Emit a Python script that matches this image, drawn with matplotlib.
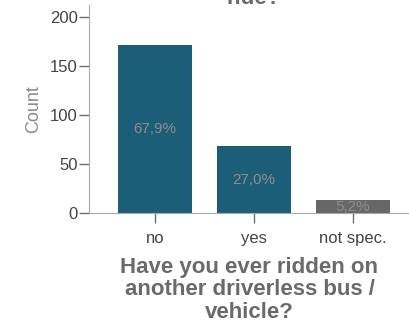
import matplotlib
matplotlib.use("Agg")
import matplotlib.pyplot as plt

categories = ["no", "yes", "not spec."]
counts = [171, 68, 13]
bar_colors = ["#1c5e78", "#1c5e78", "#676767"]
yticks = [0, 50, 100, 150, 200]
question = "Have you ever ridden on\nanother driverless bus /\nvehicle?"

plt.rcParams["font.family"] = ["Liberation Sans", "DejaVu Sans"]

total = sum(counts)
shares = [c / total * 100 for c in counts]

fig = plt.figure(figsize=(4.1, 3.24), dpi=100)
ax = fig.add_axes([89 / 410, 1 - 213 / 324, 1 - 89 / 410, 208 / 324])

x = list(range(len(categories)))
ax.bar(x, counts, width=0.75, color=bar_colors)
for xi, c, s in zip(x, counts, shares):
    ax.text(xi, c / 2, f"{s:.1f}%".replace(".", ","), ha="center", va="center",
            color="#8e8e8e", fontsize=11)

ax.set_xlim(-0.667, 2.58)
ax.set_ylim(0, 212)
ax.set_xticks(x)
ax.set_xticklabels(categories)
ax.set_yticks(yticks)
ax.tick_params(axis="both", colors="#6e6e6e", labelcolor="#444444", labelsize=12,
               length=7.5, width=1)
ax.tick_params(axis="x", pad=5.5)
ax.tick_params(axis="y", pad=0.5)
for side in ("top", "right"):
    ax.spines[side].set_visible(False)
for side in ("left", "bottom"):
    ax.spines[side].set_color("#a8a8a8")

ax.set_ylabel("Count", color="#8a8a8a", fontsize=13, labelpad=6)
ax.set_xlabel(question, color="#6a6a6a", fontsize=16, fontweight="bold",
              linespacing=1.08, labelpad=8)

# tail of the chart heading, running off the top edge
fig.text(254 / 410, 1 - 4 / 324, "ride?", ha="center", va="baseline",
         color="#6a6a6a", fontsize=16, fontweight="bold")

fig.savefig("out.png", dpi=100, facecolor="white")
